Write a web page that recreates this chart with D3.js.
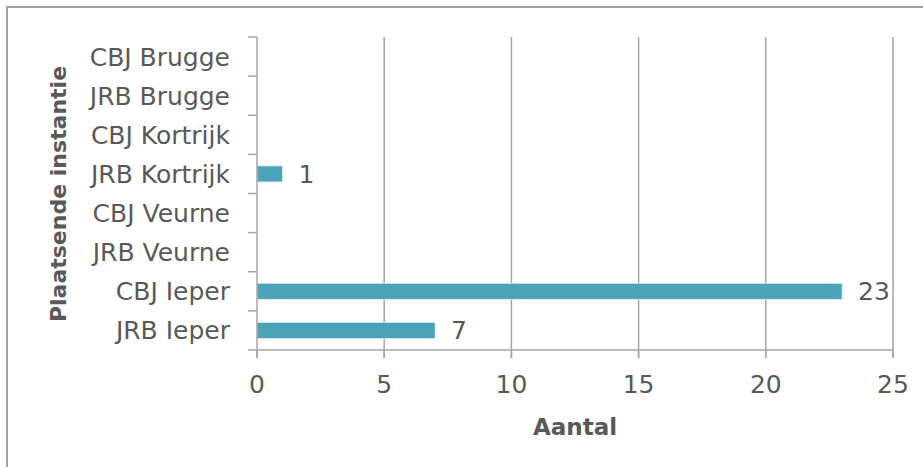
<!DOCTYPE html>
<html>
<head>
<meta charset="utf-8">
<script src="https://cdn.jsdelivr.net/npm/d3@7"></script>
<style>
  html, body { margin: 0; padding: 0; background: #fff; }
  svg { display: block; }
</style>
</head>
<body>
<script>
const categories = ["CBJ Brugge", "JRB Brugge", "CBJ Kortrijk", "JRB Kortrijk", "CBJ Veurne", "JRB Veurne", "CBJ Ieper", "JRB Ieper"];
const values = [0, 0, 0, 1, 0, 0, 23, 7];
const xTicks = [0, 5, 10, 15, 20, 25];
const xTitle = "Aantal";
const yTitle = "Plaatsende instantie";

const W = 923, H = 467;
const font = "'DejaVu Sans', sans-serif";
const textColor = "#595959";
const gridColor = "#a6a6a6";
const barColor = "#4aa3b7";
const labelSize = 25;

const svg = d3.select("body").append("svg").attr("width", W).attr("height", H);

// outer border (top & left)
svg.append("path")
  .attr("d", `M7,${H} L7,7 L${W},7`)
  .attr("fill", "none").attr("stroke", "#a0a0a0").attr("stroke-width", 2);

const x = d3.scaleLinear().domain([0, 25]).range([257, 893]);
const y = d3.scaleBand().domain(categories).range([37, 350]).paddingInner(0).paddingOuter(0);

// vertical gridlines
svg.append("g").selectAll("line").data(xTicks.filter(d => d > 0)).join("line")
  .attr("x1", d => x(d)).attr("x2", d => x(d))
  .attr("y1", 37).attr("y2", 358)
  .attr("stroke", gridColor).attr("stroke-width", 1.5);

const rows = categories.map((c, i) => ({ c, v: values[i] })).filter(d => d.v > 0);

// bars
const barH = 16;
svg.append("g").selectAll("rect").data(rows).join("rect")
  .attr("x", x(0))
  .attr("y", d => y(d.c) + y.bandwidth() / 2 - barH / 2)
  .attr("width", d => x(d.v) - x(0))
  .attr("height", barH)
  .attr("fill", barColor)
  .attr("stroke", "#d6ecf1").attr("stroke-width", 0.8);

// value labels
svg.append("g").selectAll("text").data(rows).join("text")
  .attr("x", d => x(d.v) + 16)
  .attr("y", d => y(d.c) + y.bandwidth() / 2)
  .attr("dy", "0.36em")
  .attr("font-family", font).attr("font-size", labelSize).attr("fill", textColor)
  .text(d => d.v);

// y axis
const yAxis = svg.append("g").attr("transform", `translate(${x(0)},0)`);
yAxis.append("line").attr("x1", 0).attr("x2", 0).attr("y1", 37).attr("y2", 358)
  .attr("stroke", gridColor).attr("stroke-width", 1.5);
yAxis.selectAll("line.tick").data(categories).join("line").attr("class", "tick")
  .attr("x1", -9).attr("x2", 0)
  .attr("y1", d => y(d)).attr("y2", d => y(d))
  .attr("stroke", gridColor).attr("stroke-width", 1.5);
yAxis.selectAll("text").data(categories).join("text")
  .attr("x", -27)
  .attr("y", d => y(d) + y.bandwidth() / 2)
  .attr("dy", "0.36em")
  .attr("text-anchor", "end")
  .attr("font-family", font).attr("font-size", labelSize).attr("fill", textColor)
  .text(d => d);

// x axis
const xAxis = svg.append("g").attr("transform", "translate(0,350)");
xAxis.append("line").attr("x1", 248).attr("x2", x(25)).attr("y1", 0).attr("y2", 0)
  .attr("stroke", gridColor).attr("stroke-width", 1.5);
xAxis.selectAll("line.tick").data(xTicks).join("line").attr("class", "tick")
  .attr("x1", d => x(d)).attr("x2", d => x(d)).attr("y1", 0).attr("y2", 8)
  .attr("stroke", gridColor).attr("stroke-width", 1.5);
xAxis.selectAll("text").data(xTicks).join("text")
  .attr("x", d => x(d)).attr("y", 43)
  .attr("text-anchor", "middle")
  .attr("font-family", font).attr("font-size", labelSize).attr("fill", textColor)
  .text(d => d);

// axis titles
svg.append("text")
  .attr("x", (x(0) + x(25)) / 2).attr("y", 435)
  .attr("text-anchor", "middle")
  .attr("font-family", font).attr("font-size", 23).attr("font-weight", "bold").attr("fill", textColor)
  .text(xTitle);

svg.append("text")
  .attr("transform", `translate(66,194) rotate(-90)`)
  .attr("text-anchor", "middle")
  .attr("font-family", font).attr("font-size", 22).attr("font-weight", "bold").attr("fill", textColor)
  .text(yTitle);
</script>
</body>
</html>
